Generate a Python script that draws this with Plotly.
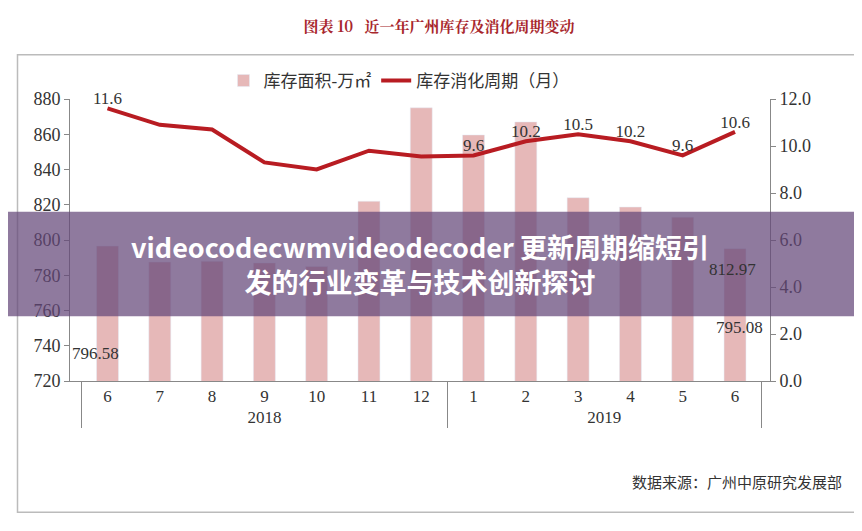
import plotly.graph_objects as go

years = ["2018"] * 7 + ["2019"] * 6
months = ["6", "7", "8", "9", "10", "11", "12", "1", "2", "3", "4", "5", "6\u200b"]
area = [796.58, 787.5, 788, 787, 785, 822, 875, 859.6, 867, 824, 818.7, 812.97, 795.08]
cycle = [11.6, 10.9, 10.7, 9.3, 9.0, 9.8, 9.55, 9.6, 10.2, 10.5, 10.2, 9.6, 10.6]
labelled_bars = [0, 11, 12]
cycle_labels = ["11.6"] + [""] * 6 + ["9.6", "10.2", "10.5", "10.2", "9.6", "10.6"]

FONT = "Liberation Serif, Noto Sans CJK SC"
x = [years, months]

fig = go.Figure()
fig.add_trace(go.Bar(
    x=x, y=area, name="库存面积-万㎡", marker_color="#e6b8b8", width=0.42,
))
fig.add_trace(go.Scatter(
    x=x, y=cycle, name="库存消化周期（月）", yaxis="y2", mode="lines+text",
    line=dict(color="#b81c22", width=4), text=cycle_labels,
    textposition="top center", textfont=dict(color="#333", size=17),
    cliponaxis=False,
))

# bar value labels (placed near the foot of the bars, as in the source)
shifts = {0: (-12, 28), 11: (50, 112), 12: (4, 54)}
for i in labelled_bars:
    dx, dy = shifts[i]
    fig.add_annotation(x=[years[i], months[i]], y=720, text=f"{area[i]:.2f}",
                       showarrow=False, xshift=dx, yshift=dy,
                       font=dict(size=17, color="#333", family=FONT))

fig.update_layout(
    width=862, height=531,
    margin=dict(l=62, r=100, t=91, b=158, autoexpand=False),
    paper_bgcolor="white", plot_bgcolor="white",
    font=dict(family=FONT, color="#333", size=17),
    showlegend=True,
    legend=dict(orientation="h", x=0.47, xanchor="center", y=1.0, yanchor="bottom",
                font=dict(size=17), bgcolor="rgba(0,0,0,0)"),
    xaxis=dict(type="multicategory", showline=True, linecolor="#888", showdividers=True,
               dividercolor="#888", ticks="", tickfont=dict(size=17), automargin=False),
    yaxis=dict(range=[720, 880], dtick=20, showgrid=False, showline=True, linecolor="#888",
               ticks="outside", ticklen=5, tickcolor="#888", tickfont=dict(size=18),
               automargin=False),
    yaxis2=dict(range=[0, 12], dtick=2, overlaying="y", side="right", showgrid=False,
                showline=True, linecolor="#888", ticks="outside", ticklen=5,
                tickcolor="#888", tickformat=".1f", tickfont=dict(size=18), automargin=False),
    title=dict(text="<b>图表 10   近一年广州库存及消化周期变动</b>", x=0.5, y=0.975,
               font=dict(color="#a8272d", size=15, family="Noto Serif CJK SC, Noto Sans CJK SC")),
)

# outer frame
fig.add_shape(type="rect", xref="paper", yref="paper", x0=-0.075, x1=1.15, y0=-0.465, y1=1.157,
              line=dict(color="#bbb", width=1.5), layer="below")
fig.add_annotation(text="数据来源：广州中原研究发展部", xref="paper", yref="paper",
                   x=1.105, y=-0.40, xanchor="right", showarrow=False,
                   font=dict(size=15, family="Noto Sans CJK SC", color="#333"))

# overlay banner
fig.add_shape(type="rect", xref="paper", yref="paper", x0=-0.15, x1=1.25, y0=0.23, y1=0.6,
              fillcolor="rgba(100,70,120,0.72)", line_width=0, layer="above")
fig.add_annotation(text="<b>videocodecwmvideodecoder 更新周期缩短引<br>发的行业变革与技术创新探讨</b>",
                   xref="paper", yref="paper", x=0.5, y=0.415, showarrow=False,
                   font=dict(size=27, color="white", family="Noto Sans CJK SC"))

fig.write_html("out.html")
